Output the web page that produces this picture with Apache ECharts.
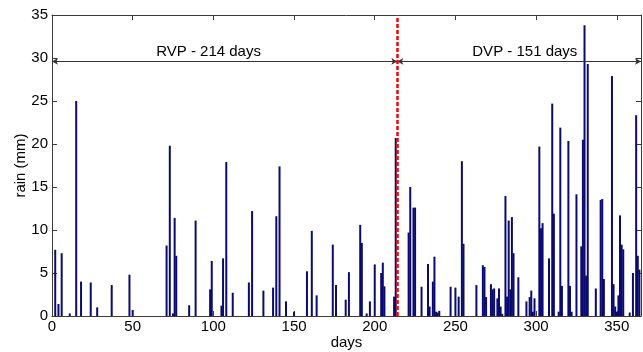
<!DOCTYPE html>
<html>
<head>
<meta charset="utf-8">
<script src="https://cdn.jsdelivr.net/npm/echarts@6/dist/echarts.min.js"></script>
<style>
  html, body { margin: 0; padding: 0; background: #fff; }
  #chart { width: 643px; height: 352px; }
</style>
</head>
<body>
<div id="chart"></div>
<script>
// daily rain (day of year, mm)
const days = [
  2, 4, 6, 11, 15, 18, 24, 28, 37, 48, 50, 71, 73, 75, 76, 77, 85, 89, 98, 99,
  105, 106, 108, 112, 122, 124, 131, 137, 139, 141, 145, 150, 158, 161, 164, 174, 176, 182, 184, 191,
  192, 195, 197, 200, 204, 205, 206, 212, 213,
  221, 222, 224, 225, 229, 233, 234, 236, 237, 238, 239, 240, 247, 250, 252, 254, 255, 263, 267, 268,
  269, 272, 273, 274, 276, 277, 278, 279, 281, 282, 283, 284, 285, 286, 289, 294, 296, 297, 298, 299,
  302, 303, 304, 308, 310, 311, 314, 315, 316, 320, 321, 322, 325, 328, 329, 330, 331, 332, 337, 340,
  341, 342, 347, 348, 349, 350, 351, 352, 353, 354, 358, 360, 362, 363, 364
];
const rain = [
  7.7, 1.4, 7.3, 0.3, 25.0, 4.0, 3.9, 1.0, 3.6, 4.8, 0.7, 8.2, 19.8, 0.3, 11.4, 7.0, 1.25, 11.1, 3.1, 6.4,
  1.2, 6.7, 17.9, 2.7, 3.9, 12.2, 2.95, 3.3, 11.6, 17.4, 1.7, 0.5, 5.2, 9.9, 2.4, 8.3, 3.6, 1.9, 5.1, 10.6,
  8.5, 0.3, 1.7, 6.0, 5.0, 6.2, 3.45, 2.25, 20.7,
  9.7, 15.0, 12.6, 12.6, 3.4, 6.05, 1.1, 4.0, 6.9, 0.5, 0.4, 0.6, 3.4, 3.3, 2.25, 18.0, 8.4, 3.6, 5.9, 5.7,
  2.2, 3.7, 3.1, 3.2, 2.05, 3.2, 1.1, 0.25, 13.95, 2.25, 11.1, 3.1, 11.5, 7.3, 4.5, 1.7, 2.2, 2.95, 0.5, 2.05,
  19.7, 10.2, 10.8, 6.7, 24.7, 11.9, 0.5, 21.9, 3.5, 20.35, 3.5, 0.5, 14.15, 8.1, 20.5, 33.8, 4.7, 29.3, 3.2, 13.5,
  13.6, 4.3, 27.9, 3.7, 1.1, 0.5, 2.4, 11.7, 8.3, 7.75, 0.4, 5.0, 23.35, 7.0, 5.4
];

// periods and annotation
const splitDay = 214;
const yearEnd = 365;
const periodNames = ['RVP - 214 days', 'DVP - 151 days'];
const periodStart = [0, splitDay];
const periodEnd = [splitDay, yearEnd];
const arrowLevel = 29.6;
const labelDay = [97, 293];
const labelLevel = 30.7;

const xTicks = [0, 50, 100, 150, 200, 250, 300, 350];

const chart = echarts.init(document.getElementById('chart'));

const font = 'Liberation Sans, Arial, sans-serif';
const boxColor = '#3a3a3a';

const xCommon = {
  type: 'value',
  min: 0,
  max: yearEnd,
  interval: 50,
  splitLine: { show: false },
  axisLine: { show: true, onZero: false, lineStyle: { color: boxColor, width: 1 } },
  axisTick: {
    show: true, inside: true, length: 5, lineStyle: { color: boxColor },
    customValues: xTicks
  }
};
const yCommon = {
  type: 'value',
  min: 0,
  max: 35,
  interval: 5,
  splitLine: { show: false },
  axisLine: { show: true, onZero: false, lineStyle: { color: boxColor, width: 1 } },
  axisTick: { show: true, inside: true, length: 5, lineStyle: { color: boxColor } }
};

const option = {
  animation: false,
  backgroundColor: '#fff',
  grid: { left: 52, right: 2, top: 15, bottom: 36, containLabel: false, outerBoundsMode: 'none' },
  xAxis: [
    Object.assign({}, xCommon, {
      position: 'bottom',
      name: 'days',
      nameLocation: 'middle',
      nameGap: 19,
      nameMoveOverlap: false,
      nameTextStyle: { fontFamily: font, fontSize: 15, color: '#000', verticalAlign: 'top' },
      axisLabel: {
        fontFamily: font, fontSize: 15, color: '#000', margin: 3,
        customValues: xTicks
      }
    }),
    Object.assign({}, xCommon, { position: 'top', axisLabel: { show: false } })
  ],
  yAxis: [
    Object.assign({}, yCommon, {
      position: 'left',
      name: 'rain (mm)',
      nameLocation: 'middle',
      nameGap: 24,
      nameMoveOverlap: false,
      nameRotate: 90,
      nameTextStyle: { fontFamily: font, fontSize: 15, color: '#000' },
      axisLabel: { fontFamily: font, fontSize: 15, color: '#000', margin: 4 }
    }),
    Object.assign({}, yCommon, { position: 'right', axisLabel: { show: false } })
  ],
  series: [
    {
      type: 'bar',
      xAxisIndex: 0,
      yAxisIndex: 0,
      barWidth: 2,
      data: days.map((d, i) => [d, rain[i]]),
      itemStyle: { color: '#0a0a70' },
      markLine: {
        silent: true,
        symbol: ['arrow', 'arrow'],
        symbolSize: [5, 6],
        precision: 3,
        lineStyle: { color: '#333', width: 1, type: 'solid' },
        label: { show: false },
        data: periodNames.map((n, i) => [
          { coord: [periodStart[i], arrowLevel] },
          { coord: [periodEnd[i], arrowLevel] }
        ]).concat([
          [
            { coord: [splitDay, 0], symbol: 'none', lineStyle: { color: '#ff0000', width: 2.5, type: [4, 2] } },
            { coord: [splitDay, 35], symbol: 'none' }
          ]
        ])
      },
      markPoint: {
        silent: true,
        symbol: 'rect',
        symbolSize: 0,
        label: {
          show: true,
          position: 'inside',
          fontFamily: font,
          fontSize: 15,
          color: '#000',
          formatter: p => p.name
        },
        data: periodNames.map((n, i) => ({ name: n, coord: [labelDay[i], labelLevel] }))
      }
    }
  ]
};

chart.setOption(option);
</script>
</body>
</html>
